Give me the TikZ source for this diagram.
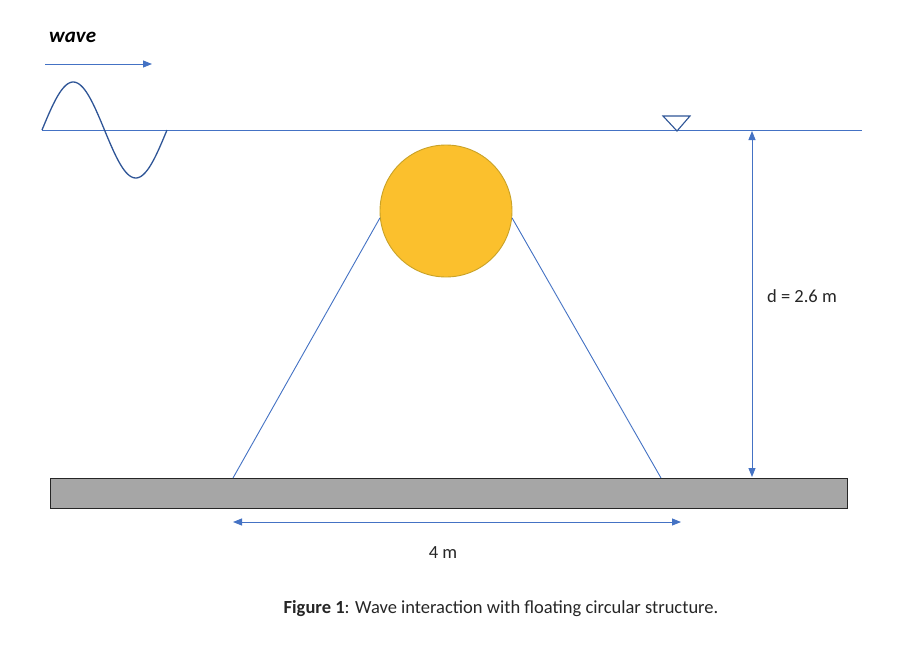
\documentclass[tikz,border=0pt]{standalone}
\usepackage{fontspec}
\setmainfont{Carlito}
\usetikzlibrary{arrows.meta,calc}
\definecolor{lineblue}{HTML}{4472C4}
\definecolor{waveblue}{HTML}{2F5597}
\definecolor{gold}{HTML}{FBC02D}
\definecolor{golddark}{HTML}{C9A227}
\definecolor{groundgray}{HTML}{A6A6A6}
\tikzset{
  thinline/.style={draw=lineblue, line width=0.9pt},
  dimarrow/.style={thinline, {Triangle[width=7pt,length=9pt]}-{Triangle[width=7pt,length=9pt]}},
  lbl/.style={font=\fontsize{18.5}{20}\selectfont, text=black!85, inner sep=0pt}
}
\begin{document}
\begin{tikzpicture}[x=1pt,y=-1pt]
\useasboundingbox[fill=white] (0,0) rectangle (908,670);
% wave label and arrow
\node[inner sep=0pt, font=\fontsize{21}{23}\selectfont\bfseries\itshape, anchor=west, text=black] (wavelbl) at (49,37) {wave};
\coordinate (wa1) at (45,64);
\coordinate (wa2) at (152,64);
\draw[thinline, -{Triangle[width=7pt,length=9pt]}] (wa1) -- (wa2);
% water line
\coordinate (wl1) at (42,130);
\coordinate (wl2) at (862,130);
\draw[thinline] (wl1) -- (wl2);
% sine wave
\draw[draw=waveblue, line width=1.3pt, line join=round] plot[domain=0:125, samples=80, smooth] ({42+\x},{130-48*sin(\x*2.88)});
% free-surface marker
\coordinate (m1) at (663,116);
\coordinate (m2) at (690,116);
\coordinate (m3) at (677,131);
\draw[draw=waveblue, line width=1.1pt, line join=miter] (m1) -- (m2) -- (m3) -- cycle;
% ground
\node[draw=black!85, line width=1.4pt, fill=groundgray, minimum width=797pt, minimum height=30pt, inner sep=0pt, anchor=north west] (ground) at (50,478) {};
% circle
\node[circle, draw=golddark, line width=0.9pt, fill=gold, minimum size=132pt, inner sep=0pt] (buoy) at (446,211) {};
% mooring lines
\coordinate (gl) at (233,478);
\coordinate (gr) at (661,478);
\draw[thinline] (buoy.186) -- (gl);
\draw[thinline] (buoy.-6) -- (gr);
% depth dimension
\coordinate (dtop) at (752,131);
\coordinate (dbot) at (752,477);
\draw[dimarrow] (dtop) -- (dbot);
\node[lbl, anchor=center] (dlbl) at (802,296) {d = 2.6 m};
% width dimension
\coordinate (wl) at (233,522);
\coordinate (wr) at (681,522);
\draw[dimarrow] (wl) -- (wr);
\node[lbl, anchor=center] (wlbl) at (443,553) {4 m};
% caption
\node[lbl, anchor=center] (cap) at (501,609) {\textbf{Figure 1}: Wave interaction with floating circular structure.};
\end{tikzpicture}
\end{document}
